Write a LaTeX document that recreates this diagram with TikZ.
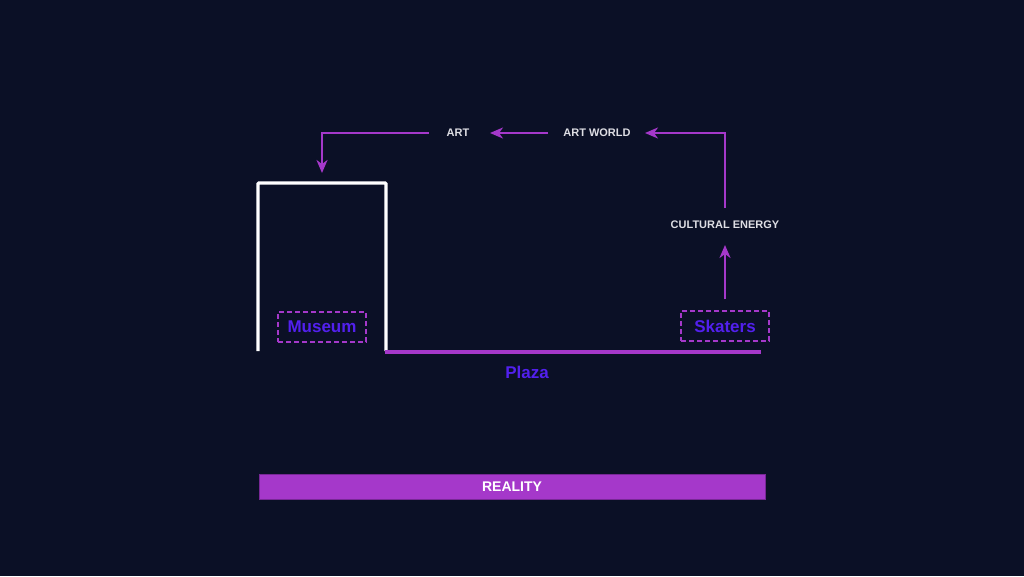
\documentclass[tikz,border=0pt]{standalone}
\usepackage{fontspec}
\setmainfont{Liberation Sans}
\usetikzlibrary{arrows.meta}
\definecolor{bg}{RGB}{11,16,38}
\definecolor{purp}{RGB}{165,56,202}
\definecolor{violet}{RGB}{82,32,238}
\definecolor{lbl}{RGB}{222,222,228}
\tikzset{
  flow/.style={draw=purp, line width=2.2pt, -{Stealth[length=13pt,width=11pt,inset=4pt]}},
  lab/.style={text=lbl, font=\bfseries\fontsize{11}{13}\selectfont, inner sep=0pt},
  tag/.style={draw=purp, dashed, dash pattern=on 5pt off 3pt, line width=1.1pt, text=violet,
    font=\bfseries\fontsize{17}{20}\selectfont, minimum width=88pt, minimum height=30pt, inner sep=0pt},
  wall/.style={draw=white, line width=3.2pt, line cap=butt, rounded corners=1pt}
}
\begin{document}
\begin{tikzpicture}[x=1pt,y=-1pt]
\useasboundingbox (0,0) rectangle (1024,576);
\fill[bg] (0,0) rectangle (1024,576);

% museum frame
\coordinate (mbl) at (258,351);
\coordinate (mtl) at (258,183);
\coordinate (mtr) at (386,183);
\coordinate (mbr) at (386,351);
\draw[wall] (mbl) -- (mtl) -- (mtr) -- (mbr);

% plaza line
\coordinate (pl) at (385,351.5);
\coordinate (pr) at (761,351.5);
\draw[purp, line width=4pt] (pl) -- (pr);
\node[text=violet, font=\bfseries\fontsize{17}{20}\selectfont, inner sep=0pt] (plaza) at (527,372) {Plaza};

% tags
\node[tag] (museum) at (322,327) {Museum};
\node[tag] (skaters) at (725,326) {Skaters};

% labels
\node[lab] (energy) at (725,224.5) {CULTURAL ENERGY};
\node[lab] (world) at (597,132.5) {ART WORLD};
\node[lab] (art) at (458,132.5) {ART};

% arrows
\draw[flow] (skaters.north) ++(0,-11) coordinate (s0) -- (725,245) coordinate (s1);
\coordinate (e0) at (725,208);
\coordinate (e1) at (725,133);
\draw[flow] (e0) -- (e1) -- (645,133);
\draw[flow] (548,133) -- (490,133);
\coordinate (a0) at (429,133);
\coordinate (a1) at (322,133);
\draw[flow] (a0) -- (a1) -- (322,173);

% reality bar
\node[fill=purp, draw={rgb,255:red,120;green,40;blue,150}, line width=0.6pt, minimum width=506pt, minimum height=25pt,
  inner sep=0pt, text=white, font=\bfseries\fontsize{14}{16}\selectfont] (reality) at (512,486.5) {REALITY};
\end{tikzpicture}
\end{document}
